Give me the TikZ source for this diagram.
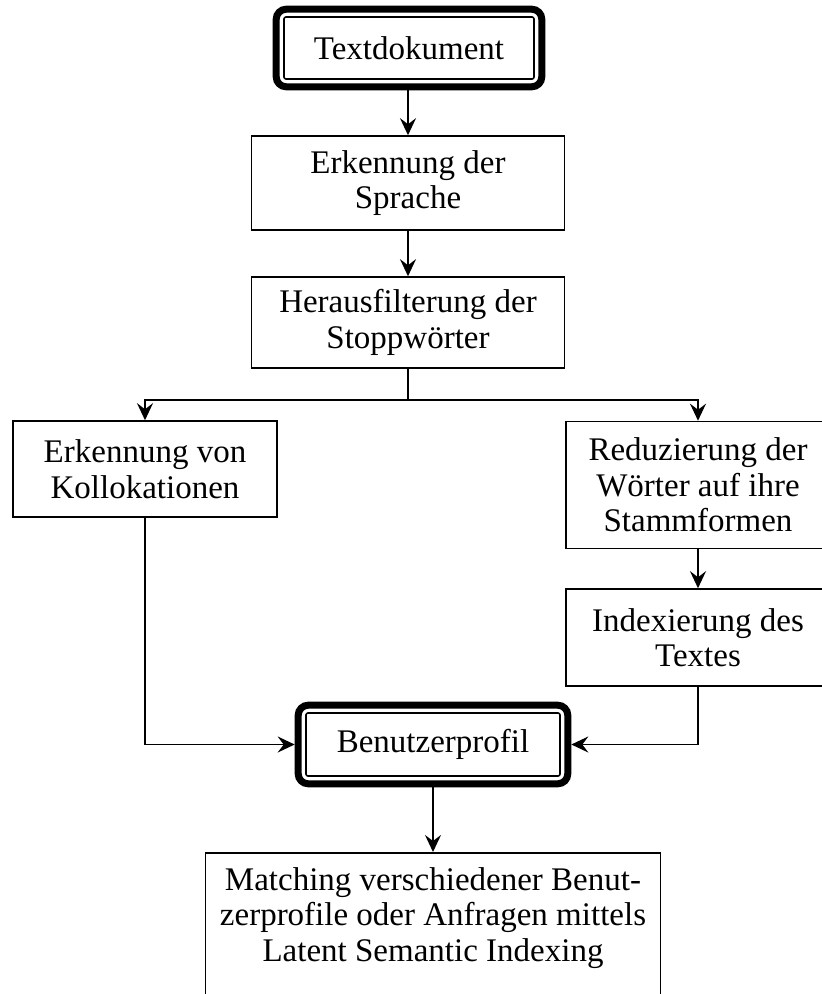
\documentclass[tikz,border=0pt]{standalone}
\usepackage{fontspec}
\setmainfont{Liberation Serif}
\usetikzlibrary{arrows.meta,fit}

\begin{document}
\begin{tikzpicture}[x=1pt,y=-1pt,
  every node/.style={font=\fontsize{33}{35.5}\selectfont},
  stepbox/.style={draw, line width=1.6pt, align=center, inner sep=0pt},
  framein/.style={draw, line width=1.6pt, rounded corners=2pt, align=center, inner sep=0pt},
  frameout/.style={draw, line width=7pt, rounded corners=10pt, inner sep=7pt},
  conn/.style={line width=1.6pt},
  arr/.style={conn, -{Stealth[length=17pt,width=16pt,inset=6pt]}}]

\useasboundingbox (0,0) rectangle (822,994);
\clip (0,0) rectangle (822,994);

% start node with heavy rounded frame
\node[framein, minimum width=250, minimum height=62] (t) at (409,48) {Textdokument};
\node[frameout, fit=(t)] (tO) {};

% processing steps
\node[stepbox, minimum width=313, minimum height=94] (e1) at (408,183) {Erkennung der\\Sprache};
\node[stepbox, minimum width=313, minimum height=91] (h) at (408,322.5) {Herausfilterung der\\Stoppwörter};
\node[stepbox, minimum width=264, minimum height=96] (k) at (145,469) {Erkennung von\\Kollokationen};
\node[stepbox, minimum width=264, minimum height=127] (r) at (698,485) {Reduzierung der\\Wörter auf ihre\\Stammformen};
\node[stepbox, minimum width=264, minimum height=97] (ix) at (698,637.5) {Indexierung des\\Textes};

% user profile with heavy rounded frame
\node[framein, minimum width=254, minimum height=63] (b) at (433,744.5) {Benutzerprofil};
\node[frameout, fit=(b)] (bO) {};

% final matching step
\node[stepbox, minimum width=455, minimum height=150, anchor=north] (m) at (433,852) {};
\node[align=center, inner sep=0pt] (mt) at (433,918) {Matching verschiedener Benut-\\zerprofile oder Anfragen mittels\\Latent Semantic Indexing};

% connectors
\coordinate (split) at (408,400);
\draw[arr] (tO.south -| e1.north) -- (e1.north);
\draw[arr] (e1.south) -- (h.north);
\draw[conn] (h.south) -- (split);
\draw[arr] (split) -| (k.north);
\draw[arr] (split) -| (r.north);
\draw[arr] (r.south) -- (ix.north);
\draw[arr] (k.south) |- (bO.west);
\draw[arr] (ix.south) |- (bO.east);
\draw[arr] (bO.south) -- (bO.south |- m.north);
\end{tikzpicture}
\end{document}
